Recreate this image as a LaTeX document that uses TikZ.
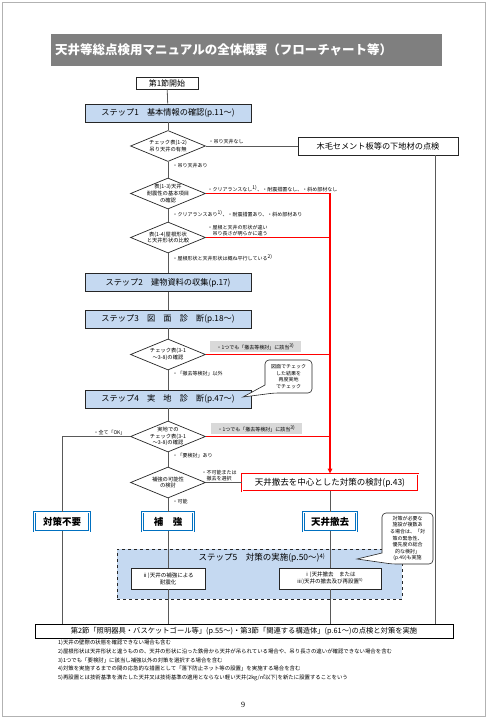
\documentclass[tikz,border=0pt]{standalone}
\usepackage{fontspec}
\setmainfont{Noto Sans CJK JP}
\newfontfamily\pagefont{Liberation Serif}
\usetikzlibrary{positioning,arrows.meta,shapes.geometric}

\definecolor{stepblue}{HTML}{C5D9F1}
\definecolor{bargray}{HTML}{7F7F7F}
\definecolor{lblgray}{HTML}{D9D9D9}
\definecolor{resblue}{HTML}{0070C0}
\definecolor{linegray}{HTML}{595959}

\tikzset{
  ln/.style={draw=linegray, line width=0.8pt},
  redln/.style={draw=red, line width=1.3pt},
  stepbox/.style={draw=black!85, line width=0.7pt, fill=stepblue, minimum width=166pt,
    minimum height=18pt, inner sep=0pt, font=\fontsize{8.2}{10}\selectfont},
  plainbox/.style={draw=black!85, line width=0.7pt, fill=white, inner sep=0pt,
    font=\fontsize{8.2}{10}\selectfont},
  dia/.style={diamond, draw=black!85, line width=0.7pt, fill=white, inner sep=0pt,
    minimum width=75pt, minimum height=31pt},
  dtext/.style={align=center, inner sep=0pt, font=\fontsize{5.3}{6.6}\selectfont},
  lbl/.style={inner sep=0.5pt, font=\fontsize{5}{6.2}\selectfont},
  graylbl/.style={lbl, fill=lblgray, minimum width=91pt, minimum height=11pt, inner xsep=3pt},
  resbox/.style={draw=resblue, double=white, double distance=0.8pt, line width=0.8pt,
    fill=white, minimum height=19pt, inner sep=0pt, font=\fontsize{9.5}{11}\selectfont\bfseries},
  notetext/.style={inner sep=0pt, align=center, font=\fontsize{5}{6.6}\selectfont},
  noteline/.style={draw=black!85, line width=0.6pt, fill=white, rounded corners=4pt},
}

\begin{document}
\begin{tikzpicture}[x=1pt, y=-1pt, >=Stealth]
\useasboundingbox (0,0) rectangle (487,720);
\draw[gray!60, line width=0.6pt] (2,2) rectangle (485,716);

% title bar
\node[fill=bargray, minimum width=391pt, minimum height=32pt, inner sep=0pt, anchor=west] (bar) at (51,50) {};
\node[anchor=west, text=white, inner sep=0pt, font=\fontsize{12.5}{14}\selectfont\bfseries] (ttl)
  at ([xshift=4pt]bar.west) {天井等総点検用マニュアルの全体概要（フローチャート等）};

% main column
\node[plainbox, minimum width=62pt, minimum height=12pt, font=\fontsize{8}{9}\selectfont] (start) at (167,83) {第1節開始};
\node[stepbox] (s1) at (168,113) {ステップ1　基本情報の確認(p.11～)};
\node[dia] (d1) at (168,146) {};
\node[dtext] (d1t) at (d1) {チェック表(1-2)\\吊り天井の有無};
\node[plainbox, minimum width=160pt, minimum height=18pt] (mokumo) at (378,146) {木毛セメント板等の下地材の点検};
\node[dia] (d2) at (168,193.5) {};
\node[dtext] (d2t) at (d2) {表(1-3)天井\\耐震性の基本項目\\の確認};
\node[dia] (d3) at (168,237.5) {};
\node[dtext] (d3t) at (d3) {表(1-4)屋根形状\\と天井形状の比較};
\node[stepbox] (s2) at (168,282.5) {ステップ2　建物資料の収集(p.17)};
\node[stepbox] (s3) at (168,319) {ステップ3　図　面　診　断(p.18～)};
\node[dia] (d4) at (168,354.5) {};
\node[dtext] (d4t) at (d4) {チェック表(3-1\\～3-8)の確認};
\node[stepbox] (s4) at (168,399) {ステップ4　実　地　診　断(p.47～)};
\node[dia] (d5) at (168,436.5) {};
\node[dtext] (d5t) at (d5) {実地での\\チェック表(3-1\\～3-8)の確認};
\node[dia] (d6) at (168,482.5) {};
\node[dtext] (d6t) at (d6) {補強の可能性\\の検討};

% results
\node[draw=red, double=white, double distance=1pt, line width=0.8pt, fill=white, inner sep=0pt,
  minimum width=176pt, minimum height=17pt, font=\fontsize{8.5}{10}\selectfont] (kento) at (330,482.5)
  {天井撤去を中心とした対策の検討(p.43)};
\node[resbox, minimum width=55pt] (fuyo) at (62,521.5) {対策不要};
\node[resbox, minimum width=51pt] (hokyo) at (168,521.5) {補　強};
\node[resbox, minimum width=53pt] (tessyo) at (330,521.5) {天井撤去};

% step 5
\node[draw=black!85, dashed, line width=0.6pt, fill=stepblue, minimum width=285pt, minimum height=50pt] (s5) at (259.5,574) {};
\node[inner sep=0pt, font=\fontsize{8.5}{10}\selectfont] (s5t) at (262,558) {ステップ5　対策の実施(p.50～)\textsuperscript{4)}};
\node[plainbox, minimum width=74pt, minimum height=21pt, align=center, font=\fontsize{5.5}{7}\selectfont] (hbox) at (168,578.5)
  {ⅱ)天井の補強による\\耐震化};
\node[plainbox, minimum width=102pt, minimum height=21pt, align=center, font=\fontsize{5.5}{7}\selectfont] (tbox) at (330,578.5)
  {ⅰ)天井撤去　または\\ⅲ)天井の撤去及び再設置\textsuperscript{5)}};

% final box
\node[draw=black, line width=1pt, fill=white, minimum width=418pt, minimum height=14pt, inner sep=0pt,
  font=\fontsize{7.3}{9}\selectfont] (final) at (244,631)
  {第2節「照明器具・バスケットゴール等」(p.55～)・第3節「関連する構造体」(p.61～)の点検と対策を実施};

% callouts
\coordinate (p4) at (243,397);
\coordinate (p5) at (357,559);
\draw[noteline] (265,385) -- (265,360) -- (312,360) -- (312,393) -- (274,393) [sharp corners] -- (p4) -- cycle;
\node[notetext] (n4) at (288.5,376.5) {図面でチェック\\した結果を\\再度実地\\でチェック};
\draw[noteline] (382,553) -- (382,513) -- (433,513) -- (433,564) -- (392,564) [sharp corners] -- (p5) -- cycle;
\node[notetext] (n5) at (407.5,538.5)
  {対策が必要な\\施設が複数あ\\る場合は、「対\\策の緊急性、\\優先度の総合\\的な検討」\\(p.49)も実施};

% connectors
\coordinate (rgt) at (435,0);
\coordinate (rx) at (330,0);
\draw[ln] (start) -- (s1);
\draw[ln] (s1) -- (d1);
\draw[ln] (d1) -- (mokumo);
\draw[ln] (d1) -- (d2);
\draw[ln] (d2) -- (d3);
\draw[ln] (d3) -- (s2);
\draw[ln] (s2) -- (s3);
\draw[ln] (s3) -- (d4);
\draw[ln] (d4) -- (s4);
\draw[ln] (s4) -- (d5);
\draw[ln] (d5) -- (d6);
\draw[ln] (d5) -| (fuyo);
\draw[ln] (d6) -- (kento);
\draw[ln] (d6) -- (hokyo);
\draw[ln] (kento) -- (tessyo);
\draw[ln] (hokyo) -- (hbox);
\draw[ln] (tessyo) -- (tbox);
\draw[ln] (fuyo) -- (fuyo |- final.north);
\draw[ln] (hbox) -- (hbox |- final.north);
\draw[ln] (tbox) -- (tbox |- final.north);
\draw[ln] (mokumo.south -| rgt) -- (final.north -| rgt);
\draw[redln, -{Triangle[length=5pt,width=4.5pt]}] (d2) -- (d2 -| rx) -- (kento);
\draw[redln] (d3) -- (d3 -| rx);
\draw[redln] (d4) -- (d4 -| rx);
\draw[redln] (d5) -- (d5 -| rx);

% branch labels
\node[lbl, anchor=south west] (l1) at ([xshift=2pt,yshift=1pt]d1.east) {・吊り天井なし};
\node[lbl, anchor=north west] (l2) at ([xshift=4pt,yshift=-1pt]d1.south) {・吊り天井あり};
\node[lbl, anchor=south west] (l3) at ([xshift=1pt,yshift=1pt]d2.east) {・クリアランスなし\textsuperscript{1)}、・耐震措置なし、・斜め部材なし};
\node[lbl, anchor=north west] (l4) at ([xshift=4pt]d2.south) {・クリアランスあり\textsuperscript{1)}、・耐震措置あり、・斜め部材あり};
\node[lbl, anchor=south west, align=left] (l5) at ([xshift=1pt,yshift=1pt]d3.east) {・屋根と天井の形状が違い\\\hphantom{・}吊り長さが明らかに違う};
\node[lbl, anchor=north west] (l6) at ([xshift=4pt]d3.south) {・屋根形状と天井形状は概ね平行している\textsuperscript{2)}};
\node[graylbl, anchor=south west] (l7) at ([xshift=4pt,yshift=2pt]d4.east) {・1つでも「撤去等検討」に該当\textsuperscript{3)}};
\node[lbl, anchor=north west] (l8) at ([xshift=4pt]d4.south) {・「撤去等検討」以外};
\node[graylbl, anchor=south west] (l9) at ([xshift=5pt,yshift=2pt]d5.east) {・1つでも「撤去等検討」に該当\textsuperscript{3)}};
\node[lbl, anchor=south east] (l10) at ([xshift=-4pt,yshift=1pt]d5.west) {・全て「OK」};
\node[lbl, anchor=north west] (l11) at ([xshift=4pt]d5.south) {・「要検討」あり};
\node[lbl, anchor=south west, align=left] (l12) at ([xshift=-5pt,yshift=1pt]d6.east) {・不可能または\\\hphantom{・}撤去を選択};
\node[lbl, anchor=north west] (l13) at ([xshift=4pt]d6.south) {・可能};

% footnotes
\node[anchor=north west, align=left, inner sep=0pt, font=\fontsize{5.4}{8.7}\selectfont] (notes) at (58,640)
  {1)天井の壁際の状態を確認できない場合も含む\\
   2)屋根形状は天井形状と違うものの、天井の形状に沿った鉄骨から天井が吊られている場合や、吊り長さの違いが確認できない場合を含む\\
   3)1つでも「要検討」に該当し補強以外の対策を選択する場合を含む\\
   4)対策を実施するまでの間の応急的な措置として「落下防止ネット等の設置」を実施する場合を含む\\
   5)再設置とは技術基準を満たした天井又は技術基準の適用とならない軽い天井(2kg/㎡以下)を新たに設置することをいう};

\node[inner sep=0pt, font=\pagefont\fontsize{8}{9}\selectfont] (pg) at (243,705) {9};
\end{tikzpicture}
\end{document}
